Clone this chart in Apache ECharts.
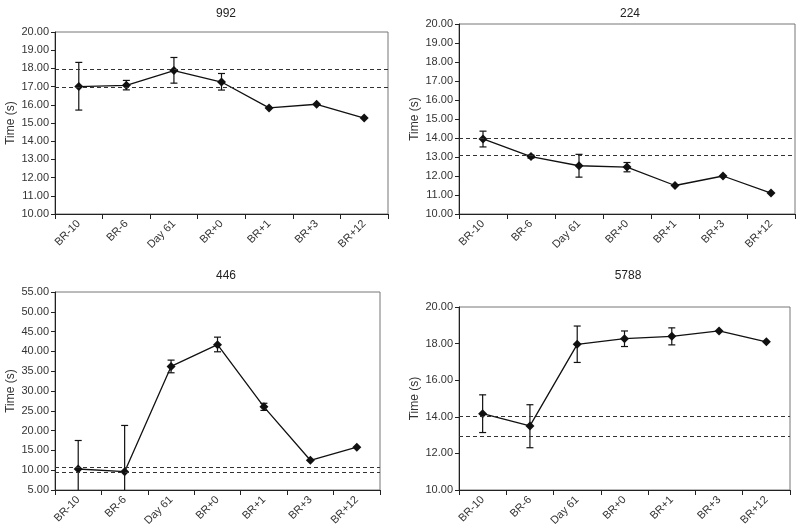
<!DOCTYPE html>
<html><head><meta charset="utf-8">
<script src="https://cdn.jsdelivr.net/npm/echarts@6/dist/echarts.min.js"></script>
<style>html,body{margin:0;padding:0;background:#fff}#c{width:800px;height:529px}</style>
</head><body><div id="c"></div>
<script>
const categories = ['BR-10','BR-6','Day 61','BR+0','BR+1','BR+3','BR+12'];
const titles = ['992','224','446','5788'];

const mean992 = [17.00, 17.07, 17.88, 17.25, 15.83, 16.03, 15.27];
const low992  = [15.71, 16.82, 17.19, 16.81, null, null, null];
const high992 = [18.33, 17.34, 18.60, 17.72, null, null, null];
const ref992  = [17.96, 16.98];

const mean224 = [13.95, 13.02, 12.54, 12.47, 11.50, 12.00, 11.10];
const low224  = [13.53, 12.94, 11.94, 12.22, null, null, null];
const high224 = [14.36, 13.10, 13.14, 12.71, null, null, null];
const ref224  = [14.01, 13.10];

const mean446 = [10.30, 9.62, 36.20, 41.70, 26.00, 12.50, 15.80];
const low446  = [3.10, -2.10, 34.60, 39.90, 25.10, null, null];
const high446 = [17.50, 21.30, 37.80, 43.60, 26.90, null, null];
const ref446  = [10.85, 9.50];

const mean5788 = [14.17, 13.50, 17.96, 18.27, 18.40, 18.69, 18.10];
const low5788  = [13.14, 12.31, 16.97, 17.84, 17.93, null, null];
const high5788 = [15.20, 14.66, 18.96, 18.69, 18.86, null, null];
const ref5788  = [14.02, 12.94];

const panels = [
  {mean: mean992, low: low992, high: high992, ref: ref992, min: 10, max: 20, interval: 1},
  {mean: mean224, low: low224, high: high224, ref: ref224, min: 10, max: 20, interval: 1},
  {mean: mean446, low: low446, high: high446, ref: ref446, min: 5, max: 55, interval: 5},
  {mean: mean5788, low: low5788, high: high5788, ref: ref5788, min: 10, max: 20, interval: 2}
];

const grids = [
  {left: 55, top: 32, width: 333, height: 182},
  {left: 459, top: 24, width: 336, height: 190},
  {left: 55, top: 292, width: 325, height: 198},
  {left: 459, top: 307, width: 331, height: 183}
];
const titlePos = [[221, 3], [625, 3], [221, 265], [623, 265]];

const FONT = 'Liberation Sans, Arial, sans-serif';

function errRender(params, api) {
  const i = api.value(0);
  const lo = api.value(1), hi = api.value(2);
  const p0 = api.coord([i, hi]);
  const p1 = api.coord([i, lo]);
  const cs = params.coordSys;
  const top = cs.y, bottom = cs.y + cs.height;
  let y0 = p0[1], y1 = p1[1];
  const children = [];
  const st = {stroke: '#111', lineWidth: 1.2};
  const hw = 3.5;
  const yy0 = Math.max(top, Math.min(bottom, y0));
  const yy1 = Math.max(top, Math.min(bottom, y1));
  children.push({type: 'line', shape: {x1: p0[0], y1: yy0, x2: p0[0], y2: yy1}, style: st});
  if (y0 >= top && y0 <= bottom) children.push({type: 'line', shape: {x1: p0[0]-hw, y1: y0, x2: p0[0]+hw, y2: y0}, style: st});
  if (y1 >= top && y1 <= bottom) children.push({type: 'line', shape: {x1: p0[0]-hw, y1: y1, x2: p0[0]+hw, y2: y1}, style: st});
  return {type: 'group', children};
}

const option = {
  animation: false,
  backgroundColor: '#fff',
  textStyle: {fontFamily: FONT},
  title: titles.map((t, k) => ({
    text: t, left: titlePos[k][0], top: titlePos[k][1], textAlign: 'center',
    textStyle: {fontSize: 12, fontWeight: 'normal', color: '#222', fontFamily: FONT}
  })),
  grid: grids.map(g => Object.assign({show: true, borderColor: '#777', borderWidth: 1, backgroundColor: 'transparent'}, g)),
  xAxis: panels.map((p, k) => ({
    type: 'category', gridIndex: k, data: categories, boundaryGap: true,
    axisLine: {lineStyle: {color: '#222', width: 1}},
    axisTick: {show: true, length: 5, lineStyle: {color: '#222'}},
    axisLabel: {rotate: 45, interval: 0, fontSize: 11, color: '#333', fontFamily: FONT, margin: 8},
    splitLine: {show: false}
  })),
  yAxis: panels.map((p, k) => ({
    type: 'value', gridIndex: k, min: p.min, max: p.max, interval: p.interval,
    name: 'Time (s)', nameLocation: 'middle', nameGap: 38, nameRotate: 90,
    nameTextStyle: {fontSize: 12, color: '#333', fontFamily: FONT},
    axisLine: {show: true, lineStyle: {color: '#222', width: 1}},
    axisTick: {show: true, length: 4, lineStyle: {color: '#222'}},
    axisLabel: {fontSize: 11, color: '#333', fontFamily: FONT, margin: 6, formatter: v => v.toFixed(2)},
    splitLine: {show: false}
  })),
  series: []
};

panels.forEach((p, k) => {
  option.series.push({
    type: 'line', xAxisIndex: k, yAxisIndex: k, data: p.mean,
    symbol: 'diamond', symbolSize: 9,
    lineStyle: {color: '#111', width: 1.3},
    itemStyle: {color: '#111'},
    z: 3,
    markLine: {
      silent: true, symbol: 'none', label: {show: false},
      lineStyle: {color: '#333', type: [4, 3], width: 1},
      data: p.ref.map(v => ({yAxis: v}))
    }
  });
  const errData = [];
  p.low.forEach((lo, i) => { if (lo !== null) errData.push([i, lo, p.high[i]]); });
  option.series.push({
    type: 'custom', xAxisIndex: k, yAxisIndex: k, data: errData,
    renderItem: errRender, encode: {x: 0, y: [1, 2]}, z: 4
  });
});

const chart = echarts.init(document.getElementById('c'), null, {renderer: 'canvas'});
chart.setOption(option);
</script></body></html>
